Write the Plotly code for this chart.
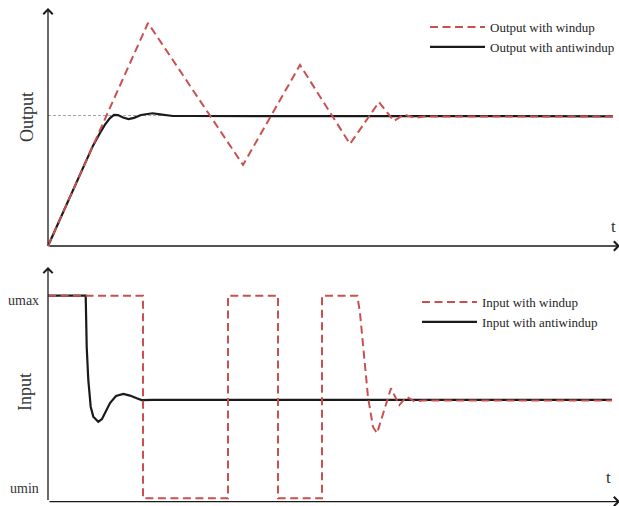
import plotly.graph_objects as go

# ---------------- data ----------------
# setpoint of the output
t_setpoint = [0, 56.5]
y_setpoint = [1.0, 1.0]

# plant output with plain PI (integrator windup)
t_out_windup = [0, 10.0, 19.5, 25.2, 30.2, 33.1, 34.6, 35.6, 36.7, 37.6, 56.5]
y_out_windup = [0, 1.709, 0.621, 1.387, 0.782, 1.103, 0.958, 1.008, 0.981, 0.993, 0.993]

# plant output with anti-windup
t_out_aw = [0, 4.5, 5.2, 5.7, 6.2, 6.6, 7.0, 7.5, 8.05, 8.6, 9.3, 10.0, 10.45,
            11.2, 12.0, 12.5, 14.0, 56.5]
y_out_aw = [0, 0.769, 0.866, 0.93, 0.98, 1.004, 1.003, 0.984, 0.973, 0.982, 1.004,
            1.015, 1.017, 1.009, 0.999, 0.996, 0.996, 0.994]

# actuator input with windup (saturating between umin=0 and umax=1)
t_in_windup = [0, 9.5, 9.5, 18.0, 18.0, 23.0, 23.0, 27.4, 27.4, 30.93, 31.2, 31.7,
               32.0, 32.5, 32.9, 34.3, 35.13, 35.87, 36.7, 37.5, 56.4]
u_in_windup = [1, 1, 0, 0, 1, 1, 0, 0, 1, 1, 0.915, 0.667,
               0.500, 0.352, 0.321, 0.543, 0.460, 0.501, 0.477, 0.483, 0.483]

# actuator input with anti-windup
t_in_aw = [0, 3.77, 3.87, 4.03, 4.27, 4.53, 5.03, 5.4, 6.2, 6.8, 7.53, 8.2, 8.87,
           9.37, 10.5, 56.4]
u_in_aw = [1, 1, 0.748, 0.584, 0.452, 0.403, 0.378, 0.391, 0.470, 0.505, 0.515,
           0.507, 0.494, 0.485, 0.486, 0.486]

# ---------------- styling ----------------
W, H = 619, 506
RED = "#C9504F"
BLACK = "#1a1a1a"
FONT = "Liberation Serif"
DASH = "8px,4.5px"


def px(xp):
    return xp / W


def py(yp):
    return 1 - yp / H


fig = go.Figure()

# upper panel: output
fig.add_trace(go.Scatter(x=t_setpoint, y=y_setpoint, mode="lines", showlegend=False,
                         hoverinfo="skip",
                         line=dict(color="#a6a6a6", width=1.2, dash="3px,2px"),
                         xaxis="x", yaxis="y"))
fig.add_trace(go.Scatter(x=t_out_aw, y=y_out_aw, mode="lines",
                         name="Output with antiwindup", legendrank=2,
                         line=dict(color=BLACK, width=2.2),
                         xaxis="x", yaxis="y", legend="legend"))
fig.add_trace(go.Scatter(x=t_out_windup, y=y_out_windup, mode="lines",
                         name="Output with windup", legendrank=1,
                         line=dict(color=RED, width=2, dash=DASH),
                         xaxis="x", yaxis="y", legend="legend"))

# lower panel: input
fig.add_trace(go.Scatter(x=t_in_aw, y=u_in_aw, mode="lines",
                         name="Input with antiwindup", legendrank=2,
                         line=dict(color=BLACK, width=2.2),
                         xaxis="x2", yaxis="y2", legend="legend2"))
fig.add_trace(go.Scatter(x=t_in_windup, y=u_in_windup, mode="lines",
                         name="Input with windup", legendrank=1,
                         line=dict(color=RED, width=2, dash=DASH),
                         xaxis="x2", yaxis="y2", legend="legend2"))

hidden = dict(visible=False, showgrid=False, zeroline=False, fixedrange=True)

# arrowed axes drawn as annotation arrows
arrow = dict(text="", showarrow=True, arrowhead=4, arrowsize=1.4, arrowwidth=1.3,
             arrowcolor=BLACK)
annotations = [
    dict(xref="x", yref="y", axref="x", ayref="y", x=0, y=1.824, ax=0, ay=0, **arrow),
    dict(xref="x", yref="y", axref="x", ayref="y", x=57.2, y=0, ax=0, ay=0, **arrow),
    dict(xref="x2", yref="y2", axref="x2", ayref="y2", x=0, y=1.142, ax=0, ay=-0.016, **arrow),
    dict(xref="x2", yref="y2", axref="x2", ayref="y2", x=57.2, y=-0.016, ax=0, ay=-0.016, **arrow),
]

label_font = dict(family=FONT, size=18, color="#333333")
small_font = dict(family=FONT, size=14, color="#333333")
t_font = dict(family=FONT, size=17, color="#333333")

annotations += [
    dict(xref="paper", yref="paper", x=px(27), y=py(117), text="Output", textangle=-90,
         showarrow=False, font=label_font, xanchor="center", yanchor="middle"),
    dict(xref="paper", yref="paper", x=px(25), y=py(392), text="Input", textangle=-90,
         showarrow=False, font=label_font, xanchor="center", yanchor="middle"),
    dict(xref="paper", yref="paper", x=px(41), y=py(300), text="umax",
         showarrow=False, font=small_font, xanchor="right", yanchor="middle"),
    dict(xref="paper", yref="paper", x=px(41), y=py(488), text="umin",
         showarrow=False, font=small_font, xanchor="right", yanchor="middle"),
    dict(xref="paper", yref="paper", x=px(613), y=py(226), text="t",
         showarrow=False, font=t_font, xanchor="center", yanchor="middle"),
    dict(xref="paper", yref="paper", x=px(608), y=py(477), text="t",
         showarrow=False, font=t_font, xanchor="center", yanchor="middle"),
]

legend_common = dict(xanchor="left", yanchor="top", bgcolor="rgba(0,0,0,0)",
                     borderwidth=0, itemwidth=55, traceorder="normal",
                     font=dict(family=FONT, size=13, color="#262626"))

fig.update_layout(
    width=W, height=H, autosize=False,
    margin=dict(l=0, r=0, t=0, b=0, autoexpand=False),
    paper_bgcolor="white", plot_bgcolor="white",
    xaxis=dict(domain=[0, 1], range=[-4.8, 57.1], anchor="y", **hidden),
    yaxis=dict(domain=[1 - 255 / H, 1], range=[-0.069, 1.885], anchor="x", **hidden),
    xaxis2=dict(domain=[0, 1], range=[-4.8, 57.1], anchor="y2", **hidden),
    yaxis2=dict(domain=[0, 1 - 258 / H], range=[-0.038, 1.186], anchor="x2", **hidden),
    legend=dict(x=px(425), y=py(12), **legend_common),
    legend2=dict(x=px(417), y=py(287), **legend_common),
    annotations=annotations,
    showlegend=True,
)

fig.write_html("out.html")
